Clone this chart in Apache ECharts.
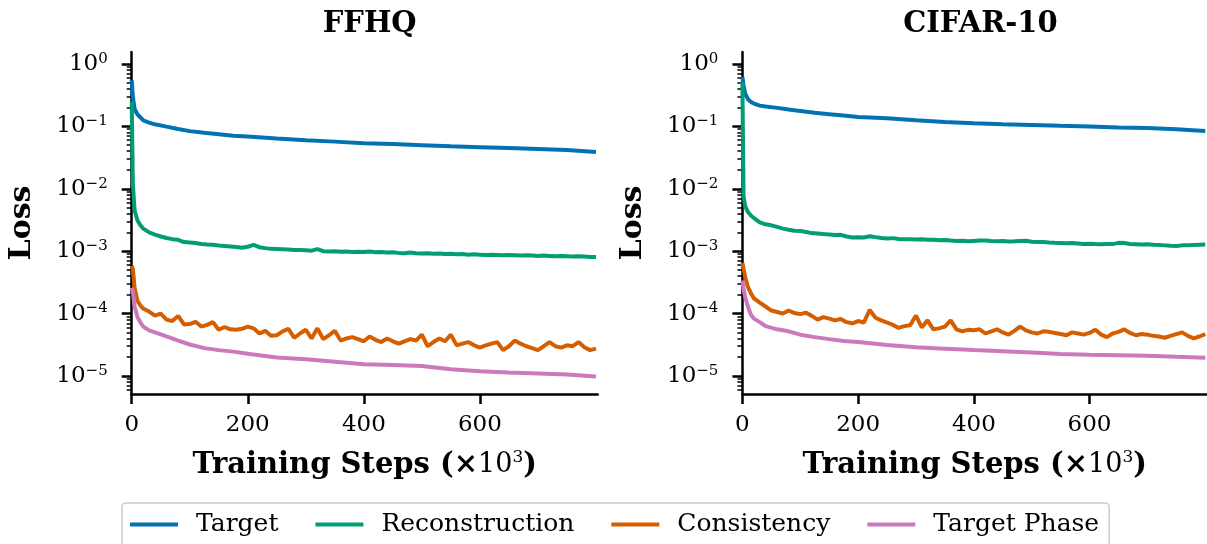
<!DOCTYPE html>
<html>
<head>
<meta charset="utf-8">
<script src="https://cdn.jsdelivr.net/npm/echarts@6/dist/echarts.min.js"></script>
<style>
  html, body { margin: 0; padding: 0; background: #fff; }
  #chart { width: 1207px; height: 544px; }
</style>
</head>
<body>
<div id="chart"></div>
<script>
// panel titles and legend names
var panels = ['FFHQ', 'CIFAR-10'];
var names = ['Target', 'Reconstruction', 'Consistency', 'Target Phase'];
var colors = ['#0173b2', '#029e73', '#d55e00', '#cc78bc'];

// x ticks (training steps, x1000) and y decades
var xTicks = [0, 200, 400, 600];
var yTicks = [1e-5, 1e-4, 1e-3, 1e-2, 1e-1, 1];

// smooth curves are read on a coarse grid, noisy ones on a 10k grid
var coarseSteps = [0, 2, 5, 10, 15, 20, 30, 40, 60, 80, 100, 125, 150, 175, 200,
  250, 300, 350, 400, 450, 500, 550, 600, 650, 700, 750, 800];
var fineSteps = [0, 2, 5, 10, 15, 20,
  30, 40, 50, 60, 70, 80, 90, 100, 110, 120,
  130, 140, 150, 160, 170, 180, 190, 200, 210, 220,
  230, 240, 250, 260, 270, 280, 290, 300, 310, 320,
  330, 340, 350, 360, 370, 380, 390, 400, 410, 420,
  430, 440, 450, 460, 470, 480, 490, 500, 510, 520,
  530, 540, 550, 560, 570, 580, 590, 600, 610, 620,
  630, 640, 650, 660, 670, 680, 690, 700, 710, 720,
  730, 740, 750, 760, 770, 780, 790, 800];

// FFHQ
var ffhqTarget = [0.55, 0.30, 0.19, 0.155, 0.14, 0.125, 0.115, 0.108, 0.099, 0.091, 0.084, 0.079, 0.075, 0.071,
  0.069, 0.064, 0.060, 0.057, 0.0535, 0.052, 0.050, 0.048, 0.0465, 0.045, 0.0435, 0.042, 0.039];
var ffhqRecon = [0.25, 0.012, 0.0045, 0.0031, 0.0026, 0.0023,
  0.0020, 0.00185, 0.00172, 0.00163, 0.00156, 0.00152, 0.00140, 0.00138, 0.00135, 0.00130,
  0.00128, 0.00127, 0.00123, 0.00121, 0.00119, 0.00117, 0.00114, 0.00118, 0.00126, 0.00116,
  0.00112, 0.00109, 0.00108, 0.00107, 0.00106, 0.00105, 0.00105, 0.00104, 0.00102, 0.00108,
  0.00100, 0.00099, 0.00100, 0.00098, 0.00099, 0.00097, 0.00098, 0.00097, 0.00099, 0.00096,
  0.00097, 0.00095, 0.00096, 0.00094, 0.00093, 0.00095, 0.00093, 0.00092, 0.00093, 0.00091,
  0.00092, 0.00090, 0.00091, 0.00089, 0.00090, 0.00088, 0.00089, 0.00088, 0.00087, 0.00088,
  0.00087, 0.00086, 0.00087, 0.00086, 0.00085, 0.00086, 0.00085, 0.00084, 0.00085, 0.00084,
  0.00083, 0.00084, 0.00083, 0.00082, 0.00083, 0.00082, 0.00081, 0.00081];
var ffhqCons = [5.8e-4, 5.2e-4, 2.6e-4, 1.6e-4, 1.35e-4, 1.2e-4,
  1.08e-4, 9.3e-5, 1.0e-4, 8.0e-5, 7.6e-5, 9.2e-5, 6.7e-5, 6.8e-5, 7.4e-5, 6.2e-5,
  6.6e-5, 7.3e-5, 5.5e-5, 6.1e-5, 5.6e-5, 5.5e-5, 5.7e-5, 6.2e-5, 5.8e-5, 4.8e-5,
  5.3e-5, 4.4e-5, 4.5e-5, 5.2e-5, 5.7e-5, 4.1e-5, 4.8e-5, 5.5e-5, 4.0e-5, 5.8e-5,
  3.9e-5, 4.5e-5, 5.3e-5, 3.7e-5, 4.0e-5, 4.2e-5, 3.9e-5, 3.6e-5, 4.3e-5, 3.8e-5,
  3.5e-5, 4.0e-5, 3.6e-5, 3.3e-5, 3.6e-5, 3.9e-5, 3.7e-5, 4.6e-5, 3.0e-5, 3.5e-5,
  4.0e-5, 3.6e-5, 4.6e-5, 3.1e-5, 3.3e-5, 3.5e-5, 3.1e-5, 2.85e-5, 3.1e-5, 3.3e-5,
  3.5e-5, 2.6e-5, 3.0e-5, 3.7e-5, 3.3e-5, 3.0e-5, 2.8e-5, 2.6e-5, 3.0e-5, 3.5e-5,
  3.0e-5, 2.85e-5, 3.1e-5, 3.0e-5, 3.5e-5, 2.9e-5, 2.6e-5, 2.75e-5];
var ffhqPhase = [2.6e-4, 2.2e-4, 1.3e-4, 8.8e-5, 7.2e-5, 6.2e-5, 5.4e-5, 5.0e-5, 4.3e-5, 3.7e-5, 3.2e-5, 2.8e-5,
  2.6e-5, 2.46e-5, 2.28e-5, 1.98e-5, 1.85e-5, 1.70e-5, 1.55e-5, 1.50e-5, 1.45e-5, 1.28e-5, 1.19e-5, 1.14e-5,
  1.10e-5, 1.06e-5, 9.8e-6];

// CIFAR-10
var cifarTarget = [0.62, 0.45, 0.33, 0.27, 0.245, 0.232, 0.215, 0.208, 0.198, 0.186, 0.177, 0.165, 0.157, 0.149,
  0.142, 0.135, 0.125, 0.118, 0.112, 0.108, 0.105, 0.102, 0.0995, 0.096, 0.094, 0.090, 0.084];
var cifarRecon = [0.5, 0.0075, 0.0052, 0.0042, 0.0037, 0.0034,
  0.0029, 0.0027, 0.0026, 0.00245, 0.0023, 0.0022, 0.00212, 0.0021, 0.00203, 0.00195,
  0.00192, 0.00188, 0.00185, 0.00182, 0.00183, 0.00172, 0.00166, 0.00168, 0.00166, 0.00174,
  0.00168, 0.00163, 0.00160, 0.00162, 0.00157, 0.00155, 0.00156, 0.00154, 0.00156, 0.00152,
  0.00153, 0.00150, 0.00151, 0.00148, 0.00146, 0.00147, 0.00144, 0.00146, 0.00148, 0.00149,
  0.00146, 0.00145, 0.00146, 0.00143, 0.00144, 0.00146, 0.00147, 0.00142, 0.00140, 0.00141,
  0.00138, 0.00136, 0.00135, 0.00134, 0.00135, 0.00133, 0.00131, 0.00132, 0.00130, 0.00129,
  0.00131, 0.00130, 0.00136, 0.00135, 0.00130, 0.00129, 0.00128, 0.00129, 0.00127, 0.00126,
  0.00124, 0.00122, 0.00121, 0.00124, 0.00125, 0.00126, 0.00127, 0.00128];
var cifarCons = [6.5e-4, 5.2e-4, 3.8e-4, 2.6e-4, 2.1e-4, 1.75e-4,
  1.5e-4, 1.3e-4, 1.12e-4, 1.06e-4, 1.0e-4, 1.12e-4, 1.02e-4, 9.8e-5, 1.03e-4, 9.2e-5,
  8.0e-5, 8.8e-5, 8.3e-5, 7.8e-5, 8.2e-5, 7.3e-5, 7.0e-5, 7.6e-5, 7.2e-5, 1.15e-4,
  8.6e-5, 7.8e-5, 7.2e-5, 6.6e-5, 5.9e-5, 6.3e-5, 6.5e-5, 9.3e-5, 6.0e-5, 7.8e-5,
  5.6e-5, 5.8e-5, 6.2e-5, 7.8e-5, 5.6e-5, 5.2e-5, 5.5e-5, 5.4e-5, 5.6e-5, 4.8e-5,
  5.2e-5, 5.6e-5, 5.0e-5, 4.6e-5, 5.3e-5, 6.2e-5, 5.4e-5, 5.0e-5, 4.8e-5, 5.2e-5,
  5.1e-5, 4.9e-5, 4.7e-5, 4.5e-5, 5.0e-5, 4.8e-5, 4.6e-5, 4.9e-5, 5.5e-5, 4.6e-5,
  4.2e-5, 4.8e-5, 5.1e-5, 5.6e-5, 4.9e-5, 4.5e-5, 4.7e-5, 4.6e-5, 4.4e-5, 4.3e-5,
  4.1e-5, 4.4e-5, 4.7e-5, 5.0e-5, 4.4e-5, 4.0e-5, 4.3e-5, 4.7e-5];
var cifarPhase = [3.4e-4, 2.5e-4, 1.8e-4, 1.25e-4, 9.5e-5, 8.3e-5, 7.3e-5, 6.3e-5, 5.6e-5, 5.2e-5, 4.6e-5, 4.2e-5,
  3.9e-5, 3.65e-5, 3.5e-5, 3.15e-5, 2.88e-5, 2.74e-5, 2.6e-5, 2.5e-5, 2.38e-5, 2.26e-5, 2.2e-5, 2.16e-5,
  2.12e-5, 2.04e-5, 1.97e-5];

var panelData = [
  [[coarseSteps, ffhqTarget], [fineSteps, ffhqRecon], [fineSteps, ffhqCons], [coarseSteps, ffhqPhase]],
  [[coarseSteps, cifarTarget], [fineSteps, cifarRecon], [fineSteps, cifarCons], [coarseSteps, cifarPhase]]
];

var serif = 'DejaVu Serif';
var yMin = 5.15e-6, yMax = 1.556;
var gridLefts = [131.7, 742.4];
var gridWidth = 466;

// minor ticks of the log axis: 2..9 x each decade
var minorTicks = [];
for (var d = -6; d <= 0; d++) {
  for (var k = 2; k <= 9; k++) {
    var v = k * Math.pow(10, d);
    if (v > yMin && v < yMax) minorTicks.push(v);
  }
}

function pow10Label(v) {
  var e = Math.round(Math.log10(v));
  return '{b|10}{s|' + (e < 0 ? '\u2212' + (-e) : e) + '}';
}

var myChart = echarts.init(document.getElementById('chart'), null, {renderer: 'canvas'});

var grids = [], xAxes = [], yAxes = [], titles = [], series = [];
panels.forEach(function (title, p) {
  grids.push({left: gridLefts[p], top: 52, width: gridWidth, height: 342, containLabel: false});
  titles.push({
    text: title,
    left: gridLefts[p] + gridWidth / 2,
    top: 5,
    textAlign: 'center',
    textStyle: {fontFamily: serif, fontWeight: 'bold', fontSize: 29, color: '#000'}
  });
  xAxes.push({
    type: 'value', gridIndex: p, min: 0, max: 803,
    splitLine: {show: false},
    axisLine: {lineStyle: {color: '#000', width: 2.5}},
    axisTick: {customValues: xTicks, length: 10, lineStyle: {color: '#000', width: 2.5}},
    axisLabel: {customValues: xTicks, margin: 20, fontFamily: serif, fontSize: 23, color: '#000'},
    name: '{t|Training Steps (\u00d7}{n|10}{s|3}{t|)}',
    nameLocation: 'middle',
    nameGap: 55,
    nameTextStyle: {
      rich: {
        t: {fontFamily: serif, fontWeight: 'bold', fontSize: 29, color: '#000', lineHeight: 32},
        n: {fontFamily: serif, fontSize: 27, color: '#000', lineHeight: 32},
        s: {fontFamily: serif, fontSize: 17, color: '#000', lineHeight: 17, padding: [0, 0, 15, 0]}
      }
    }
  });
  yAxes.push({
    type: 'log', gridIndex: p, position: 'left', min: yMin, max: yMax, logBase: 10,
    splitLine: {show: false},
    axisLine: {lineStyle: {color: '#000', width: 2.5}},
    axisTick: {customValues: yTicks, length: 10, lineStyle: {color: '#000', width: 2.5}},
    axisLabel: {
      customValues: yTicks, margin: 24, formatter: pow10Label,
      rich: {
        b: {fontFamily: serif, fontSize: 23, color: '#000', lineHeight: 24},
        s: {fontFamily: serif, fontSize: 15, color: '#000', lineHeight: 14, padding: [0, 0, 10, 0]}
      }
    },
    name: 'Loss',
    nameLocation: 'middle',
    nameGap: 94,
    nameTextStyle: {fontFamily: serif, fontWeight: 'bold', fontSize: 30, color: '#000'}
  });
  // overlay axis only for the short minor ticks
  yAxes.push({
    type: 'log', gridIndex: p, position: 'left', min: yMin, max: yMax, logBase: 10,
    splitLine: {show: false},
    axisLine: {show: false},
    axisLabel: {show: false},
    axisTick: {customValues: minorTicks, length: 5, lineStyle: {color: '#000', width: 1.5}}
  });
  panelData[p].forEach(function (pair, i) {
    var xs = pair[0], ys = pair[1];
    series.push({
      name: names[i],
      type: 'line',
      xAxisIndex: p,
      yAxisIndex: p * 2,
      showSymbol: false,
      symbol: 'none',
      color: colors[i],
      lineStyle: {width: 4, color: colors[i]},
      data: xs.map(function (x, j) { return [x, ys[j]]; })
    });
  });
});

var option = {
  animation: false,
  backgroundColor: '#fff',
  title: titles,
  grid: grids,
  xAxis: xAxes,
  yAxis: yAxes,
  legend: {
    data: names,
    left: 122,
    top: 503,
    icon: 'rect',
    itemWidth: 48,
    itemHeight: 4,
    itemGap: 37,
    padding: [9, 10, 30, 8],
    borderColor: '#cccccc',
    borderWidth: 1.5,
    borderRadius: 4,
    textStyle: {fontFamily: serif, fontSize: 25, color: '#000', padding: [0, 0, 0, 13]}
  },
  series: series
};

myChart.setOption(option);
</script>
</body>
</html>
